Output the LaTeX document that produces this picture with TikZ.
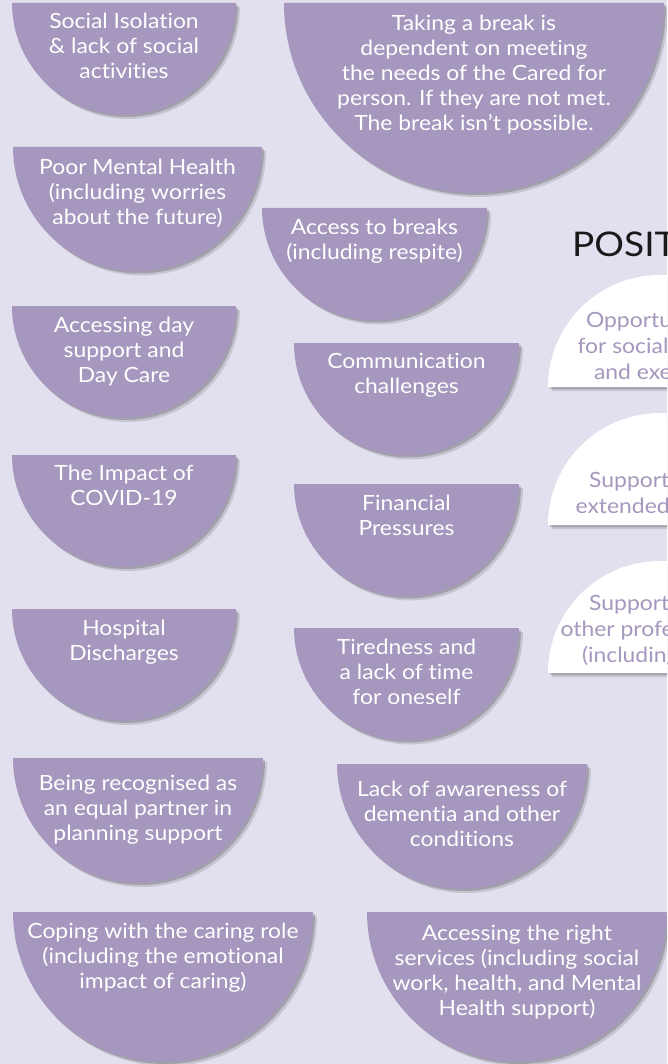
\documentclass[tikz,border=0pt]{standalone}
\usepackage{fontspec}
\setmainfont{Lato}[FakeStretch=1.09,Ligatures=NoCommon]
\usetikzlibrary{shadows}
\definecolor{bglilac}{RGB}{226,224,238}
\definecolor{halfpurple}{RGB}{165,151,189}

\tikzset{
  softshadow/.style={drop shadow={shadow xshift=4pt,shadow yshift=-4pt,opacity=.12,fill=black},
                     drop shadow={shadow xshift=2pt,shadow yshift=-2pt,opacity=.18,fill=black}},
  halfdisc/.style={fill=halfpurple,softshadow},
  whitedisc/.style={fill=white,softshadow},
  issue/.style={text=white,align=center,anchor=north,inner sep=0pt,font=\fontsize{21}{25}\selectfont},
  plus/.style={text=halfpurple,align=center,anchor=north,inner sep=0pt,font=\fontsize{21}{26}\selectfont},
}

\begin{document}
\begin{tikzpicture}[x=1pt,y=1pt]

\useasboundingbox (0,0) rectangle (667,-1064);
\clip (0,0) rectangle (667,-1064);
\fill[bglilac] (0,0) rectangle (667,-1064);

\foreach \nm/\cx/\ty/\rad/\bl/\txt in {
  soc/124/3/112/28/{Social Isolation\\\& lack of social\\activities},
  brk/474/3/190/30/{Taking a break is\\dependent on meeting\\the needs of the Cared for\\person. If they are not met.\\The break isn’t possible.},
  mnt/137.5/147/124.5/174/{Poor Mental Health\\(including worries\\about the future)},
  acc/374.5/208/112.5/234/{Access to breaks\\(including respite)},
  day/124/306/112/332/{Accessing day\\support and\\Day Care},
  com/406.5/343/112.5/368/{Communication\\challenges},
  cov/124/455/112/480/{The Impact of\\COVID-19},
  fin/406.5/484/112.5/510/{Financial\\Pressures},
  hos/124/609/112/635/{Hospital\\Discharges},
  tir/406.5/628/112.5/654/{Tiredness and\\a lack of time\\for oneself},
  rec/138/758/125/790/{Being recognised as\\an equal partner in\\planning support},
  awa/462/764/125/796/{Lack of awareness of\\dementia and other\\conditions},
  cop/163/912/150/938/{Coping with the caring role\\(including the emotional\\impact of caring)},
  srv/517/912/150/940/{Accessing the right\\services (including social\\work, health, and Mental\\Health support)}}
{
  \fill[halfdisc] (\cx-\rad,-\ty) arc[start angle=180,end angle=360,radius=\rad pt] -- cycle;
  \node[issue] (\nm) at (\cx,-\bl+17.5) {\strut\txt};
}

\node[anchor=base west,inner sep=0pt,font=\fontsize{34}{40}\selectfont,text=black!90] (posit) at (572,-257) {POSITIVES};

\foreach \nm/\by/\bl/\txt in {
  opp/387/327/{Opportunities\\for socialisation\\and exercise},
  fam/525/487/{Support from\\extended family},
  pro/673/610/{Support from\\other professionals\\(including GPs)}}
{
  \fill[whitedisc] (548,-\by) arc[start angle=180,end angle=0,radius=112pt] -- cycle;
  \node[plus] (\nm) at (656,-\bl+18.2) {\strut\txt};
}

\end{tikzpicture}
\end{document}
